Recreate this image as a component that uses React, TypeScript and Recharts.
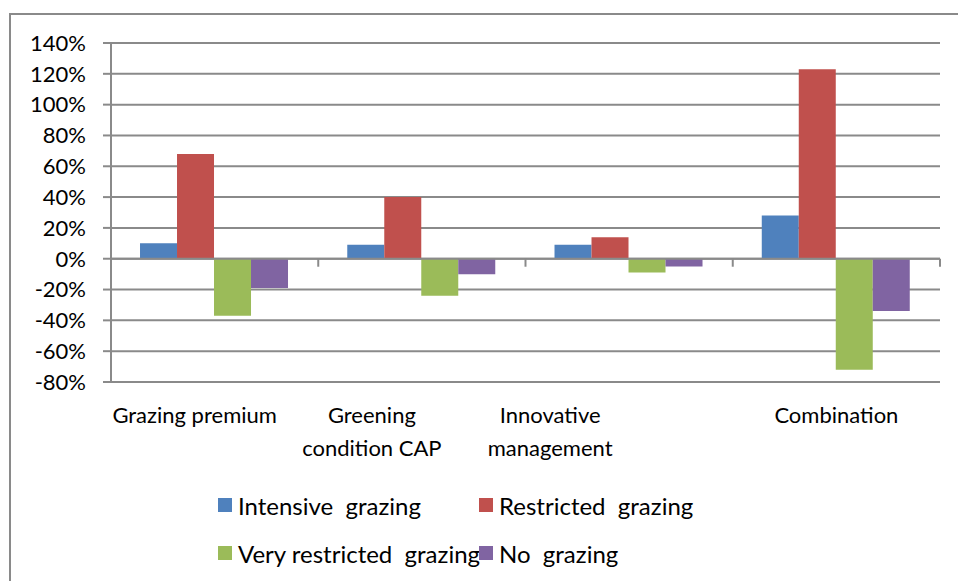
import React from "react";
import {
  BarChart,
  Bar,
  XAxis,
  YAxis,
  CartesianGrid,
  ReferenceLine,
} from "recharts";

// categories (\n = line break in the axis label)
const categories = [
  "Grazing premium",
  "Greening\ncondition CAP",
  "Innovative\nmanagement",
  "Combination",
];

// change in %, per scenario
const intensive = [10, 9, 9, 28];
const restricted = [68, 40, 14, 123];
const veryRestricted = [-37, -24, -9, -72];
const noGrazing = [-19, -10, -5, -34];

const yTicks = [-80, -60, -40, -20, 0, 20, 40, 60, 80, 100, 120, 140];

const seriesList = [
  { key: "intensive", label: "Intensive  grazing", color: "#4F81BD", values: intensive },
  { key: "restricted", label: "Restricted  grazing", color: "#C0504D", values: restricted },
  { key: "veryRestricted", label: "Very restricted  grazing", color: "#9BBB59", values: veryRestricted },
  { key: "noGrazing", label: "No  grazing", color: "#8064A2", values: noGrazing },
];

const data = categories.map((name, i) => {
  const row: Record<string, any> = { name };
  seriesList.forEach((s) => {
    row[s.key] = s.values[i];
  });
  return row;
});

const FONT = "Lato, 'Open Sans', sans-serif";
const GRID = "#8a8a8a";

// Excel put the category labels a bit left of the band centre
const labelShift = [-20, -50, -79, 0];

const CategoryTick = (props: any) => {
  const { x, y, payload, index } = props;
  const lines = String(payload.value).split("\n");
  return (
    <g transform={`translate(${x + (labelShift[index] || 0)},${y})`}>
      {lines.map((ln, i) => (
        <text
          key={i}
          x={0}
          y={33 + i * 33}
          dy="0.36em"
          textAnchor="middle"
          fill="#000"
          fontSize={22}
          fontFamily={FONT}
        >
          {ln}
        </text>
      ))}
    </g>
  );
};

// zero line with tick marks at the category boundaries
const ZeroAxis = (props: any) => {
  const { x1, x2, y1 } = props;
  const n = categories.length;
  const step = (x2 - x1) / n;
  const marks = [];
  for (let i = 0; i <= n; i++) {
    const tx = x1 + step * i;
    marks.push(
      <line key={i} x1={tx} x2={tx} y1={y1} y2={y1 + 8} stroke={GRID} strokeWidth={2} />
    );
  }
  return (
    <g>
      <line x1={x1} x2={x2} y1={y1} y2={y1} stroke={GRID} strokeWidth={2} />
      {marks}
    </g>
  );
};

export default function App() {
  return (
    <div
      style={{
        position: "absolute",
        left: 0,
        top: 0,
        width: 958,
        height: 581,
        background: "white",
        overflow: "hidden",
        fontFamily: FONT,
      }}
    >
      {/* chart frame, only left and top edges are visible */}
      <div
        style={{
          position: "absolute",
          left: 9,
          top: 13,
          width: 960,
          height: 600,
          borderLeft: `2px solid ${GRID}`,
          borderTop: `2px solid ${GRID}`,
        }}
      ></div>

      <div style={{ position: "absolute", left: 0, top: 0 }}>
        <BarChart
          width={958}
          height={581}
          data={data}
          margin={{ top: 43, right: 18, left: 0, bottom: 0 }}
          barCategoryGap="14%"
          barGap={0}
        >
          <CartesianGrid vertical={false} stroke={GRID} strokeWidth={2} />
          <XAxis
            dataKey="name"
            axisLine={false}
            tickLine={false}
            tickSize={0}
            tickMargin={0}
            interval={0}
            height={199}
            tick={<CategoryTick />}
          />
          <YAxis
            type="number"
            domain={[-80, 140]}
            ticks={yTicks}
            interval={0}
            width={111}
            tickFormatter={(v) => `${v}%`}
            axisLine={{ stroke: GRID, strokeWidth: 2 }}
            tickLine={{ stroke: GRID, strokeWidth: 2 }}
            tickSize={8}
            tickMargin={17}
            tick={{ fill: "#000", fontSize: 22, fontFamily: FONT }}
          />
          {seriesList.map((s) => (
            <Bar
              key={s.key}
              dataKey={s.key}
              fill={s.color}
              isAnimationActive={false}
            />
          ))}
          <ReferenceLine y={0} shape={<ZeroAxis />} />
        </BarChart>
      </div>

      {/* legend */}
      <div
        style={{
          position: "absolute",
          left: 218,
          top: 489,
          display: "grid",
          gridTemplateColumns: "261px 261px",
          rowGap: 16,
          fontSize: 24,
          color: "#000",
        }}
      >
        {seriesList.map((s) => (
          <div
            key={s.key}
            style={{ display: "flex", alignItems: "center", height: 32 }}
          >
            <div
              style={{
                width: 14,
                height: 14,
                background: s.color,
                marginRight: 6,
                flexShrink: 0,
              }}
            ></div>
            <span style={{ whiteSpace: "pre" }}>{s.label}</span>
          </div>
        ))}
      </div>
    </div>
  );
}
